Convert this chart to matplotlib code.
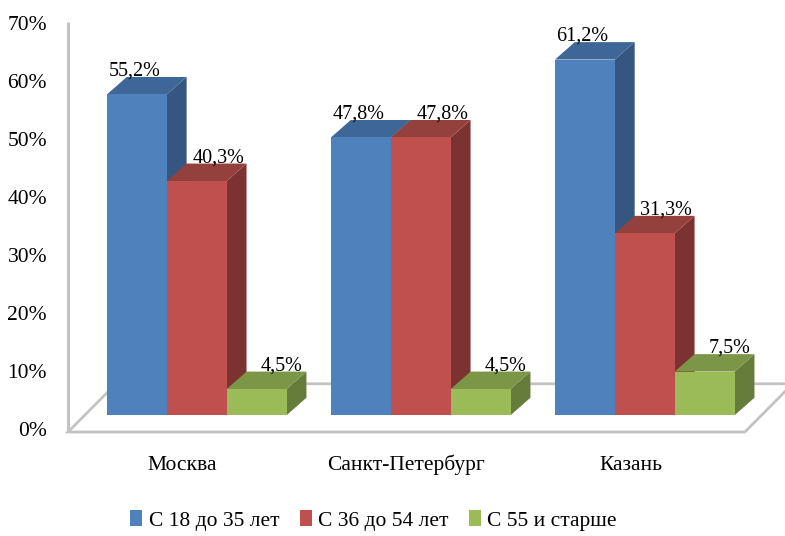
import matplotlib.pyplot as plt
from matplotlib.patches import Polygon, Rectangle, Patch

plt.rcParams["font.family"] = ["Liberation Serif", "DejaVu Serif"]

cities = ["Москва", "Санкт-Петербург", "Казань"]
age_groups = ["С 18 до 35 лет", "С 36 до 54 лет", "С 55 и старше"]
young = [55.2, 47.8, 61.2]
middle = [40.3, 47.8, 31.3]
senior = [4.5, 4.5, 7.5]
y_ticks = [0, 10, 20, 30, 40, 50, 60, 70]

front_colors = ["#4f81bd", "#c0504d", "#9bbb59"]
top_colors = ["#3e6797", "#94403d", "#7b9646"]
side_colors = ["#345681", "#7c3230", "#657c3a"]
label_shift = [-0.04, 0.36, 0.42]

# pseudo-3D geometry in data units (x: bar widths, y: percent)
BAR_W = 1.0
GROUP_STEP = 3.74
DX, DY = 0.33, 3.0
BASE = 2.9
AXIS_X = -0.65
FLOOR_RIGHT = 10.65
FLOOR_DX, FLOOR_DY = 0.8, 8.3
GRAY = "#c3c3c3"


def draw_bar(ax, x0, value, k):
    x1 = x0 + BAR_W
    y0, y1 = BASE, BASE + value
    side = Polygon([(x1, y0), (x1 + DX, y0 + DY), (x1 + DX, y1 + DY), (x1, y1)],
                   closed=True, facecolor=side_colors[k], edgecolor="none", zorder=3)
    top = Polygon([(x0, y1), (x1, y1), (x1 + DX, y1 + DY), (x0 + DX, y1 + DY)],
                  closed=True, facecolor=top_colors[k], edgecolor="none", zorder=3)
    front = Rectangle((x0, y0), BAR_W, value, facecolor=front_colors[k],
                      edgecolor="none", zorder=3)
    for p in (side, top, front):
        ax.add_patch(p)
    ax.text(x0 + BAR_W / 2 + label_shift[k], y1 + DY + 0.2,
            f"{value:.1f}%".replace(".", ","), ha="center", va="baseline",
            fontsize=14.5, zorder=5)


fig = plt.figure(figsize=(7.85, 5.36), dpi=100)
ax = fig.add_axes([0, 0, 1, 1])
ax.set_xlim(-1.786, 11.32)
ax.set_ylim(-17.9, 74.35)
ax.axis("off")

# floor and value axis
floor = Polygon([(AXIS_X, 0), (FLOOR_RIGHT, 0),
                 (FLOOR_RIGHT + FLOOR_DX, FLOOR_DY), (AXIS_X + FLOOR_DX, FLOOR_DY)],
                closed=True, facecolor="white", edgecolor=GRAY, lw=2, zorder=1)
ax.add_patch(floor)
ax.plot([AXIS_X, AXIS_X], [0, 70.6], color=GRAY, lw=2.2, zorder=2,
        solid_capstyle="butt")

for t in y_ticks:
    ax.text(-1.0, t, f"{t}%", ha="right", va="center", fontsize=15.5)

series = [young, middle, senior]
for i, city in enumerate(cities):
    gx = i * GROUP_STEP
    for k, values in enumerate(series):
        draw_bar(ax, gx + k * BAR_W, values[i], k)
    ax.text(gx + 1.5 * BAR_W - 0.24, -5.7, city, ha="center", va="center",
            fontsize=15.5)

handles = [Patch(facecolor=c, edgecolor="none") for c in front_colors]
ax.legend(handles, age_groups, loc="center", bbox_to_anchor=(0.476, 0.029),
          ncol=3, frameon=False, fontsize=15.5, handlelength=0.55,
          handleheight=0.75, handletextpad=0.3, columnspacing=0.95)

fig.savefig("out.png", dpi=100)
